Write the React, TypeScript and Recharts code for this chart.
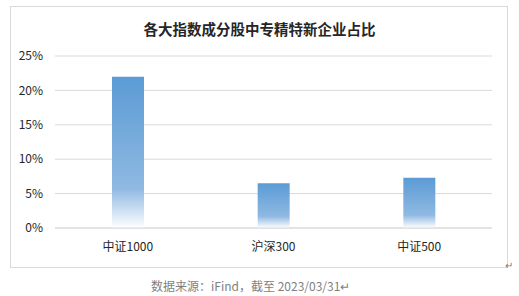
import React from 'react';
import { BarChart, Bar, XAxis, YAxis, CartesianGrid } from 'recharts';

// 各大指数成分股中专精特新企业占比（%）
const indexNames = ['中证1000', '沪深300', '中证500'];
const shareValues = [22.0, 6.5, 7.3];
const yTicks = [0, 5, 10, 15, 20, 25];

const data = indexNames.map((name, i) => ({ name, value: shareValues[i] }));

const FONT = '"Microsoft YaHei", "Noto Sans CJK SC", sans-serif';

const App = () => {
  return (
    <div
      style={{
        position: 'absolute',
        left: 0,
        top: 0,
        width: 519,
        height: 296,
        background: '#ffffff',
        fontFamily: FONT,
        overflow: 'hidden',
      }}
    >
      {/* outer frame */}
      <div
        style={{
          position: 'absolute',
          left: 10,
          top: 6,
          width: 496,
          height: 260,
          border: '1px solid #d9d9d9',
        }}
      />
      <div
        style={{
          position: 'absolute',
          left: 0,
          top: 20,
          width: 519,
          textAlign: 'center',
          fontSize: 14.5,
          fontWeight: 'bold',
          color: '#262626',
          lineHeight: '18px',
        }}
      >
        各大指数成分股中专精特新企业占比
      </div>
      <div style={{ position: 'absolute', left: 0, top: 0 }}>
        <BarChart
          width={519}
          height={296}
          data={data}
          margin={{ top: 56, right: 27, bottom: 38, left: 10 }}
        >
          <defs>
            <linearGradient id="barFill" x1="0" y1="0" x2="0" y2="1">
              <stop offset="0%" stopColor="#5b9bd5" />
              <stop offset="74%" stopColor="#8fb9e2" />
              <stop offset="100%" stopColor="#ffffff" />
            </linearGradient>
          </defs>
          <CartesianGrid vertical={false} stroke="#d9d9d9" />
          <XAxis
            dataKey="name"
            height={30}
            axisLine={{ stroke: '#d9d9d9' }}
            tickLine={false}
            tickSize={6}
            tickMargin={8}
            tick={{ fill: '#262626', fontSize: 12, fontFamily: FONT }}
          />
          <YAxis
            width={45}
            domain={[0, 25]}
            ticks={yTicks}
            tickFormatter={(v: number) => `${v}%`}
            axisLine={false}
            tickLine={false}
            tickSize={6}
            tickMargin={6}
            tick={{ fill: '#262626', fontSize: 12, fontFamily: FONT }}
          />
          <Bar dataKey="value" fill="url(#barFill)" barSize={32} isAnimationActive={false} />
        </BarChart>
      </div>
      <div
        style={{
          position: 'absolute',
          left: 505,
          top: 257,
          fontSize: 10,
          color: '#7f7f7f',
        }}
      >
        ↵
      </div>
      <div
        style={{
          position: 'absolute',
          left: 151,
          top: 278,
          fontSize: 12,
          color: '#7f7f7f',
          lineHeight: '16px',
          whiteSpace: 'nowrap',
        }}
      >
        数据来源：iFind，截至 2023/03/31↵
      </div>
    </div>
  );
};

export default App;
